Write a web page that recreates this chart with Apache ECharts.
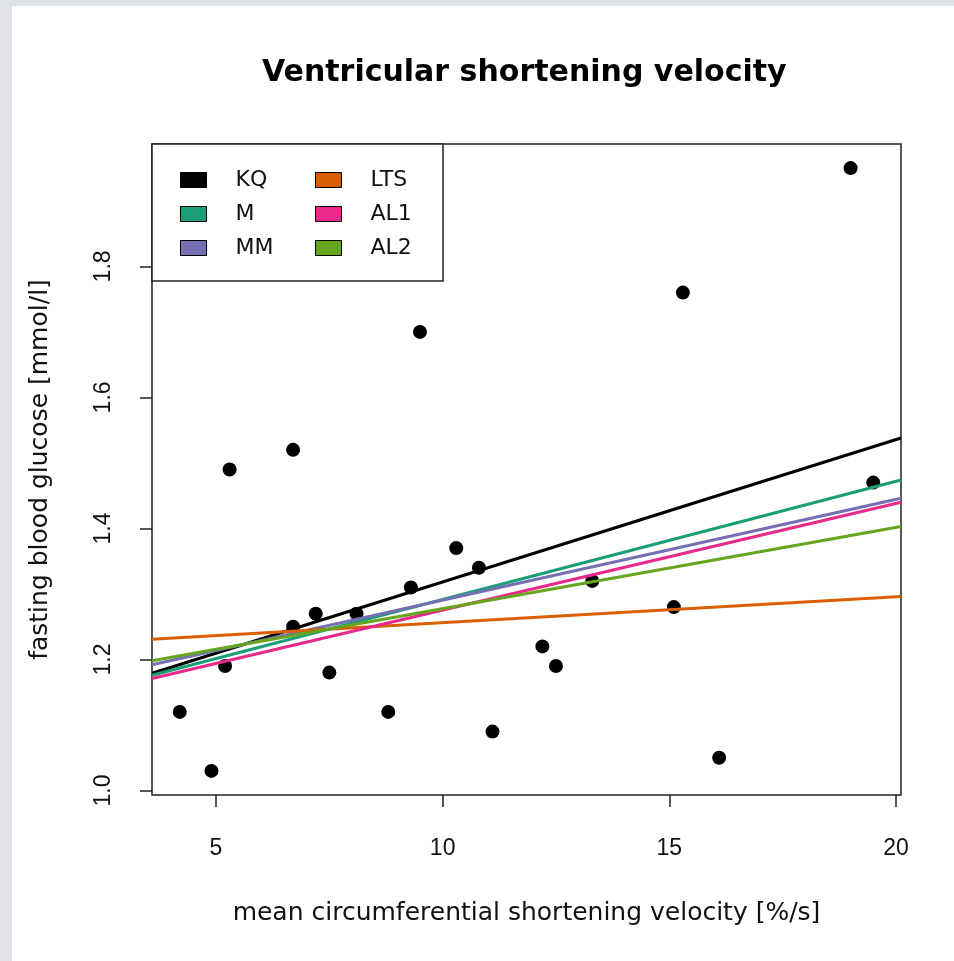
<!DOCTYPE html>
<html>
<head>
<meta charset="utf-8">
<script src="https://cdn.jsdelivr.net/npm/echarts@6.0.0/dist/echarts.min.js"></script>
<style>
  body { margin: 0; background: #dfe3e8; }
  #chart { position: absolute; left: 12px; top: 6px; width: 942px; height: 955px; background: #fff; }
</style>
</head>
<body>
<div id="chart"></div>
<script>
// thuesen data: x on horizontal axis, y on vertical axis
const xVals = [15.3, 10.8, 8.1, 19.5, 7.2, 5.3, 9.3, 11.1, 7.5, 12.2, 6.7, 5.2,
  19.0, 15.1, 6.7, 4.2, 10.3, 12.5, 16.1, 13.3, 4.9, 8.8, 9.5];
const yVals = [1.76, 1.34, 1.27, 1.47, 1.27, 1.49, 1.31, 1.09, 1.18, 1.22, 1.25, 1.19,
  1.95, 1.28, 1.52, 1.12, 1.37, 1.19, 1.05, 1.32, 1.03, 1.12, 1.70];

// fitted lines, value at the left and right edge of the plot
const fitNames = ["KQ", "M", "MM", "LTS", "AL1", "AL2"];
const fitLeft = [1.179, 1.176, 1.192, 1.231, 1.171, 1.198];
const fitRight = [1.538, 1.474, 1.446, 1.296, 1.440, 1.403];
const fitColors = ["#000000", "#1B9E77", "#7570B3", "#D95F02", "#E7298A", "#66A61E"];

const xTicks = [5, 10, 15, 20];
const yTicks = [1.0, 1.2, 1.4, 1.6, 1.8];
const xMin = 3.588, xMax = 20.112;
const yMin = 0.9932, yMax = 1.9868;

const FONT = '"Liberation Sans", Arial, sans-serif';
const WIDE = '"DejaVu Sans", sans-serif';

const chart = echarts.init(document.getElementById("chart"));

let points = [];
xVals.forEach((x, i) => {
  points.push([x, yVals[i]]);
});

let series = [{
  name: "pts",
  type: "scatter",
  data: points,
  symbolSize: 14,
  itemStyle: { color: "#000", opacity: 1 },
  z: 2
}];
fitNames.forEach((n, i) => {
  series.push({
    name: n,
    type: "line",
    data: [[xMin, fitLeft[i]], [xMax, fitRight[i]]],
    showSymbol: false,
    clip: true,
    lineStyle: { color: fitColors[i], width: 3 },
    itemStyle: { color: fitColors[i] },
    z: 3
  });
});

const legendCommon = {
  orient: "vertical",
  icon: "rect",
  itemWidth: 26,
  itemHeight: 15,
  itemGap: 12,
  itemStyle: { borderColor: "#000", borderWidth: 1 },
  textStyle: { fontFamily: WIDE, fontSize: 22, color: "#111", padding: [0, 0, 0, 24] },
  selectedMode: false,
  top: 158,
  z: 20
};

chart.setOption({
  animation: false,
  title: {
    text: "Ventricular shortening velocity",
    left: 245,
    top: 47,
    textStyle: { fontFamily: WIDE, fontSize: 30, fontWeight: "bold", color: "#000" }
  },
  grid: {
    left: 140,
    top: 138,
    width: 749,
    height: 651,
    show: true,
    borderColor: "#222",
    borderWidth: 1.5
  },
  legend: [
    Object.assign({}, legendCommon, { left: 163, data: fitNames.slice(0, 3) }),
    Object.assign({}, legendCommon, { left: 298, data: fitNames.slice(3) })
  ],
  graphic: [{
    type: "rect",
    shape: { x: 140, y: 138, width: 291, height: 137 },
    style: { fill: "#fff", stroke: "#222", lineWidth: 1.5 },
    z: 5
  }],
  xAxis: {
    type: "value",
    min: xMin,
    max: xMax,
    name: "mean circumferential shortening velocity [%/s]",
    nameLocation: "middle",
    nameGap: 106,
    nameTextStyle: { fontFamily: WIDE, fontSize: 25, color: "#111" },
    axisLine: { show: false },
    splitLine: { show: false },
    axisTick: { show: true, length: 12, customValues: xTicks, lineStyle: { color: "#222", width: 1.5 } },
    axisLabel: { customValues: xTicks, margin: 42, fontFamily: FONT, fontSize: 23, color: "#111" }
  },
  yAxis: {
    type: "value",
    min: yMin,
    max: yMax,
    name: "fasting blood glucose [mmol/l]",
    nameLocation: "middle",
    nameGap: 99,
    nameTextStyle: { fontFamily: WIDE, fontSize: 25, color: "#111" },
    axisLine: { show: false },
    splitLine: { show: false },
    axisTick: { show: true, length: 12, customValues: yTicks, lineStyle: { color: "#222", width: 1.5 } },
    axisLabel: {
      customValues: yTicks,
      rotate: 90,
      margin: 37,
      fontFamily: FONT,
      fontSize: 23,
      color: "#111",
      formatter: v => v.toFixed(1)
    }
  },
  series: series
});
</script>
</body>
</html>
